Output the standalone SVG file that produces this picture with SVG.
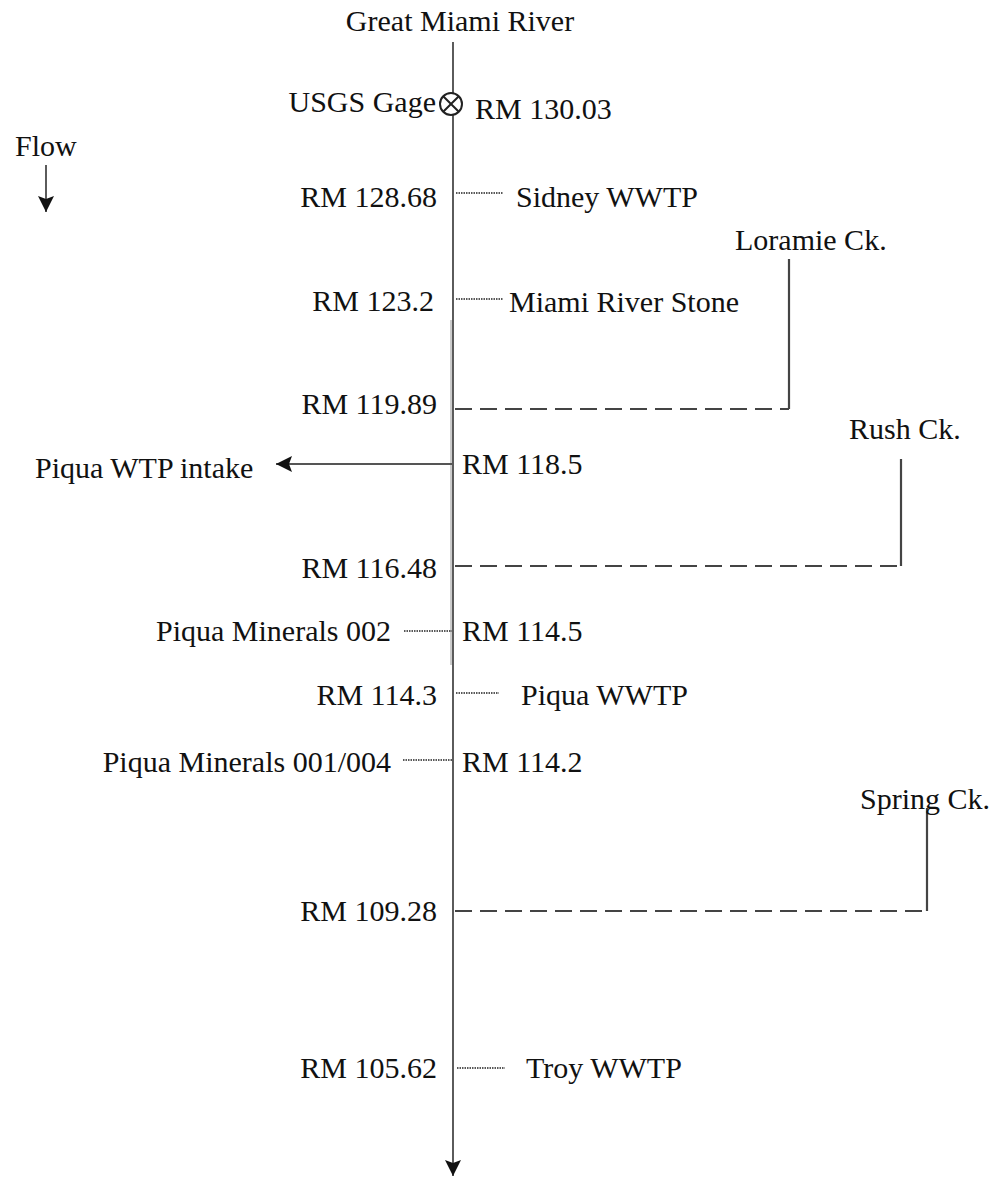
<svg xmlns="http://www.w3.org/2000/svg" width="1005" height="1182" viewBox="0 0 1005 1182">
<style>
text{font-family:"Liberation Serif","Times New Roman",serif;font-size:30px;fill:#111}
.r{text-anchor:end}
.m{text-anchor:middle}
.main{stroke:#333;stroke-width:1.6;fill:none}
.dot{stroke:#222;stroke-width:1.5;stroke-dasharray:1.5 1;fill:none}
.dash{stroke:#444;stroke-width:2.2;stroke-dasharray:17 8;fill:none}
.trib{stroke:#444;stroke-width:2.2;fill:none}
</style>
<defs>
<marker id="ah" viewBox="0 0 16 16" refX="16" refY="8" markerWidth="16" markerHeight="16" markerUnits="userSpaceOnUse" orient="auto">
<path d="M0,0 L16,8 L0,16 L3,8 Z" fill="#111"/>
</marker>
</defs>
<g id="connectors">
<line class="main" x1="453" y1="42" x2="453" y2="1176" marker-end="url(#ah)"/>
<line x1="451" y1="320" x2="451" y2="665" stroke="#bbb" stroke-width="1.5"/>
<line class="main" x1="46" y1="165" x2="46" y2="212" marker-end="url(#ah)"/>
<line x1="452" y1="464" x2="276" y2="464" stroke="#555" stroke-width="1.8" marker-end="url(#ah)"/>
<line class="dot" x1="456" y1="193" x2="503" y2="193"/>
<line class="dot" x1="456" y1="299" x2="503" y2="299"/>
<line class="dot" x1="404" y1="631" x2="452" y2="631"/>
<line class="dot" x1="456" y1="693" x2="499" y2="693"/>
<line class="dot" x1="403" y1="760" x2="452" y2="760"/>
<line class="dot" x1="457" y1="1068" x2="505" y2="1068"/>
<path class="trib" d="M789,259 V409"/>
<line class="dash" x1="455" y1="409" x2="789" y2="409"/>
<path class="trib" d="M901,459 V566"/>
<line class="dash" x1="455" y1="566" x2="901" y2="566"/>
<path class="trib" d="M927,808 V911"/>
<line class="dash" x1="455" y1="911" x2="927" y2="911"/>
</g>
<g id="title"><text class="m" x="460" y="31">Great Miami River</text></g>
<g id="gage">
<circle cx="451" cy="104" r="11" fill="#fff" stroke="#222" stroke-width="2"/>
<path d="M443.2,96.2 L458.8,111.8 M458.8,96.2 L443.2,111.8" stroke="#222" stroke-width="2"/>
<text class="r" x="436" y="112">USGS Gage</text>
<text x="475" y="119">RM 130.03</text>
</g>
<g id="flow"><text x="15" y="156">Flow</text></g>
<g id="sidney"><text class="r" x="437" y="207">RM 128.68</text><text x="516" y="207">Sidney WWTP</text></g>
<g id="loramie"><text x="735" y="250">Loramie Ck.</text><text class="r" x="437" y="414">RM 119.89</text></g>
<g id="mrs"><text class="r" x="434" y="311">RM 123.2</text><text x="509" y="312">Miami River Stone</text></g>
<g id="wtp"><text x="35" y="478">Piqua WTP intake</text><text x="462" y="474">RM 118.5</text></g>
<g id="rush"><text x="849" y="439">Rush Ck.</text><text class="r" x="437" y="578">RM 116.48</text></g>
<g id="pm002"><text class="r" x="391" y="641">Piqua Minerals 002</text><text x="462" y="641">RM 114.5</text></g>
<g id="pwwtp"><text class="r" x="437" y="705">RM 114.3</text><text x="521" y="705">Piqua WWTP</text></g>
<g id="pm001"><text class="r" x="391" y="772">Piqua Minerals 001/004</text><text x="462" y="772">RM 114.2</text></g>
<g id="spring"><text x="860" y="809">Spring Ck.</text><text class="r" x="437" y="921">RM 109.28</text></g>
<g id="troy"><text class="r" x="437" y="1078">RM 105.62</text><text x="526" y="1078">Troy WWTP</text></g>
</svg>
